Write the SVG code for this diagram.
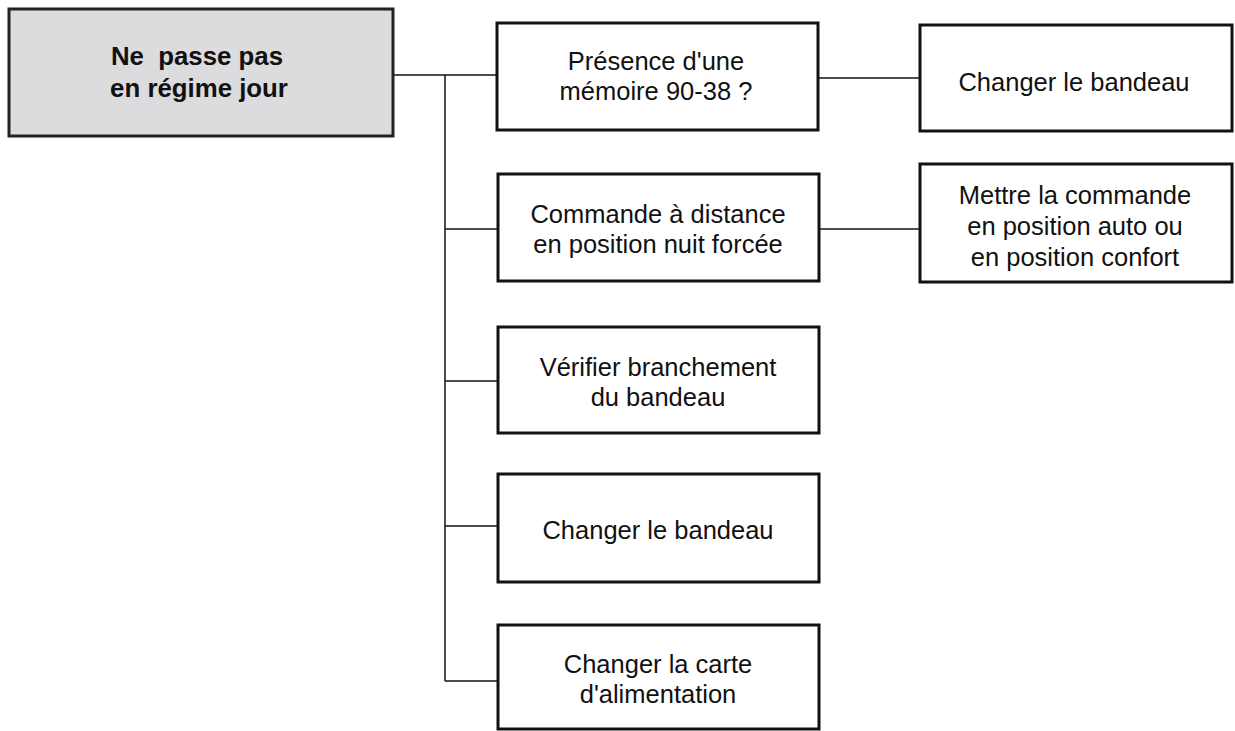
<svg xmlns="http://www.w3.org/2000/svg" width="1235" height="731" viewBox="0 0 1235 731">
  <style>
    .box { fill: #ffffff; stroke: #111111; stroke-width: 3; }
    .root { fill: #dcdcde; stroke: #222222; stroke-width: 3; }
    .wire { fill: none; stroke: #111111; stroke-width: 1.5; }
    text { font-family: "Liberation Sans", Arial, sans-serif; font-size: 25.5px; fill: #111111; text-anchor: middle; }
    .bold { font-weight: bold; white-space: pre; font-size: 25.8px; }
  </style>
  <rect width="1235" height="731" fill="#ffffff"/>

  <!-- connectors -->
  <g id="connectors">
    <line class="wire" x1="393" y1="75" x2="497" y2="75"/>
    <line class="wire" x1="445" y1="75" x2="445" y2="681"/>
    <line class="wire" x1="445" y1="229" x2="497" y2="229"/>
    <line class="wire" x1="445" y1="381" x2="497" y2="381"/>
    <line class="wire" x1="445" y1="526" x2="497" y2="526"/>
    <line class="wire" x1="445" y1="681" x2="497" y2="681"/>
    <line class="wire" x1="818" y1="78" x2="920" y2="78"/>
    <line class="wire" x1="819" y1="229" x2="920" y2="229"/>
  </g>

  <g id="root">
    <rect class="root" x="9" y="9" width="384" height="127"/>
    <text class="bold" x="197" y="65" xml:space="preserve">Ne  passe pas</text>
    <text class="bold" x="199" y="97">en régime jour</text>
  </g>

  <g id="n-memoire">
    <rect class="box" x="497" y="23" width="321" height="107"/>
    <text x="656" y="70">Présence d'une</text>
    <text x="656" y="100">mémoire 90-38 ?</text>
  </g>

  <g id="n-changer-bandeau-1">
    <rect class="box" x="920" y="25" width="312" height="106"/>
    <text x="1074" y="91">Changer le bandeau</text>
  </g>

  <g id="n-commande">
    <rect class="box" x="498" y="174" width="321" height="107"/>
    <text x="658" y="223">Commande à distance</text>
    <text x="658" y="253">en position nuit forcée</text>
  </g>

  <g id="n-mettre">
    <rect class="box" x="920" y="164" width="312" height="118"/>
    <text x="1075" y="204">Mettre la commande</text>
    <text x="1075" y="235">en position auto ou</text>
    <text x="1075" y="266">en position confort</text>
  </g>

  <g id="n-verifier">
    <rect class="box" x="498" y="327" width="321" height="106"/>
    <text x="658" y="376">Vérifier branchement</text>
    <text x="658" y="406">du bandeau</text>
  </g>

  <g id="n-changer-bandeau-2">
    <rect class="box" x="498" y="474" width="321" height="108"/>
    <text x="658" y="539">Changer le bandeau</text>
  </g>

  <g id="n-carte">
    <rect class="box" x="498" y="625" width="321" height="104"/>
    <text x="658" y="673">Changer la carte</text>
    <text x="658" y="703">d'alimentation</text>
  </g>
</svg>
